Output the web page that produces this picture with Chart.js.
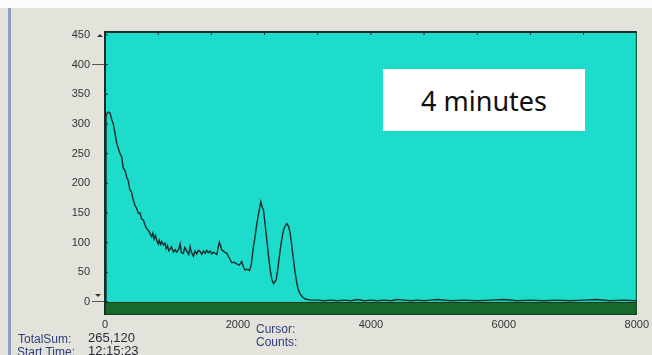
<!DOCTYPE html>
<html lang="en">
<head>
  <meta charset="UTF-8">
  <title>Spectrum - 4 minutes</title>
  <script src="https://cdn.jsdelivr.net/npm/chart.js"></script>
  <style>
    html, body {
      margin: 0;
      padding: 0;
      width: 652px;
      height: 355px;
      overflow: hidden;
      background: #e3e2db;
      font-family: "Liberation Sans", Arial, sans-serif;
    }
    #topStrip {
      position: absolute; left: 0; top: 0; width: 652px; height: 8px; background: #fbfbfa;
    }
    #leftStrip {
      position: absolute; left: 8px; top: 8px; width: 3px; height: 347px; background: #8f9cc8;
    }
    #wrap {
      position: absolute; left: 0; top: 0; width: 652px; height: 355px;
    }
    .info {
      position: absolute;
      font-size: 12px;
      color: #2f3f7c;
      white-space: nowrap;
    }
    .val { color: #2c2c38; font-size: 13px; }
    #note {
      position: absolute;
      left: 383px; top: 69px;
      width: 202px; height: 62px;
      background: #ffffff;
      font-family: "Noto Sans", "Open Sans", sans-serif;
      font-size: 27px;
      color: #111;
      display: flex; align-items: center; justify-content: center;
    }
  </style>
</head>
<body>
  <div id="topStrip"></div>
  <div id="leftStrip"></div>
  <div id="wrap"><canvas id="chart" width="652" height="355"></canvas></div>
  <div id="note">4 minutes</div>

  <div class="info" style="left:18px; top:332px;">TotalSum:</div>
  <div class="info val" style="left:88px; top:330px;">265,120</div>
  <div class="info" style="left:17px; top:345px;">Start Time:</div>
  <div class="info val" style="left:88px; top:343px;">12:15:23</div>
  <div class="info" style="left:256px; top:322px;">Cursor:</div>
  <div class="info" style="left:256px; top:335px;">Counts:</div>

  <script>
    // spectrum (channel, counts)
    const channels = [
      0, 15, 30, 50, 75, 100, 125, 150, 175, 200, 225, 250, 275, 300, 325, 350, 375, 400,
      425, 450, 475, 500, 527, 550, 577, 600, 625, 652, 675, 703, 720, 740, 760, 778, 800,
      815, 835, 853, 880, 904, 920, 940, 960, 979, 1000, 1030, 1055, 1080, 1110, 1130, 1150,
      1180, 1200, 1230, 1260, 1280, 1300, 1330, 1355, 1380, 1405, 1431, 1455, 1480, 1505,
      1531, 1555, 1580, 1605, 1631, 1655, 1681, 1700, 1721, 1756, 1800, 1832, 1870, 1907,
      1945, 1982, 2020, 2057, 2085, 2108, 2140, 2173, 2200, 2233, 2260, 2284, 2315, 2344,
      2365, 2384, 2410, 2435, 2460, 2485, 2510, 2535, 2575, 2605, 2636, 2660, 2685, 2710,
      2736, 2760, 2786, 2810, 2836, 2860, 2887, 2910, 2937, 2975, 3012, 3100, 3200, 3300,
      3400, 3500, 3600, 3700, 3800, 3900, 4000, 4100, 4200, 4300, 4400, 4500, 4600, 4700,
      4800, 4900, 5000, 5200, 5400, 5600, 5800, 6000, 6200, 6400, 6600, 6800, 7000, 7200,
      7400, 7600, 7800, 8000
    ];
    const counts = [
      0, 312, 318, 320, 319, 308, 300, 285, 268, 259, 250, 245, 226, 222, 211, 204, 189, 185,
      172, 163, 158, 150, 150, 140, 138, 130, 124, 121, 116, 110, 116, 106, 112, 104, 98,
      104, 97, 102, 96, 99, 90, 95, 86, 89, 93, 84, 88, 84, 89, 98, 83,
      82, 92, 86, 80, 93, 84, 77, 86, 81, 87, 85, 80, 86, 82,
      87, 83, 86, 81, 84, 82, 80, 90, 101, 88, 84, 82, 74, 66,
      67, 64, 62, 68, 58, 54, 55, 53, 62, 93, 112, 132, 152, 169,
      160, 155, 130, 104, 78, 54, 38, 31, 37, 60, 88, 106, 121, 128,
      132, 128, 116, 95, 71, 50, 31, 20, 13, 8, 5, 3, 3, 2,
      3, 2, 3, 2, 4, 2, 3, 2, 3, 2, 4, 3, 2, 3,
      2, 3, 4, 2, 3, 2, 3, 4, 2, 3, 2, 3, 2, 3,
      4, 2, 3, 2
    ];
    const yTicks = [0, 50, 100, 150, 200, 250, 300, 350, 400, 450];
    const xTicks = [0, 2000, 4000, 6000, 8000];

    const points = channels.map((c, i) => ({ x: c, y: counts[i] }));

    const panelPlugin = {
      id: 'panel',
      beforeDatasetsDraw(chart) {
        const { ctx, chartArea: a, scales } = chart;
        const y0 = scales.y.getPixelForValue(0);
        ctx.save();
        ctx.fillStyle = '#1edccb';
        ctx.fillRect(a.left, a.top, a.right - a.left, y0 - a.top);
        ctx.fillStyle = '#17682a';
        ctx.fillRect(a.left, y0, a.right - a.left, a.bottom - y0);
        ctx.restore();
      },
      afterDatasetsDraw(chart) {
        const { ctx, chartArea: a, scales } = chart;
        const y0 = scales.y.getPixelForValue(0);
        ctx.save();
        ctx.strokeStyle = '#1c2a2a';
        ctx.lineWidth = 2;
        ctx.beginPath();
        ctx.moveTo(a.left, a.bottom);
        ctx.lineTo(a.left, a.top);
        ctx.lineTo(a.right, a.top);
        ctx.stroke();
        ctx.lineWidth = 1;
        ctx.strokeStyle = '#0e3f1c';
        ctx.beginPath();
        ctx.moveTo(a.left, y0 + 0.5);
        ctx.lineTo(a.right, y0 + 0.5);
        ctx.moveTo(a.left, a.bottom - 0.5);
        ctx.lineTo(a.right, a.bottom - 0.5);
        ctx.moveTo(a.right - 0.5, a.top);
        ctx.lineTo(a.right - 0.5, a.bottom);
        ctx.stroke();
        // little inward ticks on left and top edges
        ctx.strokeStyle = '#1c2a2a';
        ctx.beginPath();
        yTicks.forEach(v => {
          const py = scales.y.getPixelForValue(v);
          ctx.moveTo(a.left, py);
          ctx.lineTo(a.left + 3, py);
        });
        for (let c = 800; c < 8000; c += 800) {
          const px = scales.x.getPixelForValue(c);
          ctx.moveTo(px, a.top);
          ctx.lineTo(px, a.top + 3);
        }
        ctx.stroke();
        // scroll arrows next to axis
        ctx.fillStyle = '#333';
        const ty = scales.y.getPixelForValue(450);
        ctx.beginPath();
        ctx.moveTo(a.left - 8, ty + 2);
        ctx.lineTo(a.left - 5, ty - 1);
        ctx.lineTo(a.left - 2, ty + 2);
        ctx.fill();
        ctx.beginPath();
        ctx.moveTo(a.left - 10, y0 - 8);
        ctx.lineTo(a.left - 7, y0 - 5);
        ctx.lineTo(a.left - 4, y0 - 8);
        ctx.fill();
        ctx.restore();
      }
    };

    new Chart(document.getElementById('chart').getContext('2d'), {
      type: 'line',
      data: {
        datasets: [{
          data: points,
          borderColor: '#1b2b2e',
          borderWidth: 1.4,
          pointRadius: 0,
          tension: 0,
          fill: false
        }]
      },
      options: {
        responsive: false,
        animation: false,
        events: [],
        layout: { padding: { left: 0, top: 32, right: 12, bottom: 0 } },
        plugins: { legend: { display: false }, tooltip: { enabled: false } },
        scales: {
          x: {
            type: 'linear',
            min: 0,
            max: 8000,
            afterBuildTicks: s => { s.ticks = xTicks.map(v => ({ value: v })); },
            afterFit: s => { s.height = 40; },
            border: { display: false },
            grid: { display: false, drawTicks: false },
            ticks: {
              padding: 3,
              maxRotation: 0,
              color: '#333',
              callback: v => String(v),
              font: { family: '"Liberation Sans", Arial, sans-serif', size: 11 }
            }
          },
          y: {
            min: -22,
            max: 455,
            afterBuildTicks: s => { s.ticks = yTicks.map(v => ({ value: v })); },
            afterFit: s => { s.width = 105; },
            border: { display: false },
            grid: {
              drawOnChartArea: false,
              drawTicks: true,
              tickLength: 13,
              color: c => (c.tick && (c.tick.value === 0 || c.tick.value === 400)) ? '#555' : 'rgba(0,0,0,0)'
            },
            ticks: {
              padding: 2,
              color: '#333',
              callback: v => String(v),
              font: { family: '"Liberation Sans", Arial, sans-serif', size: 11 }
            }
          }
        }
      },
      plugins: [panelPlugin]
    });
  </script>
</body>
</html>
